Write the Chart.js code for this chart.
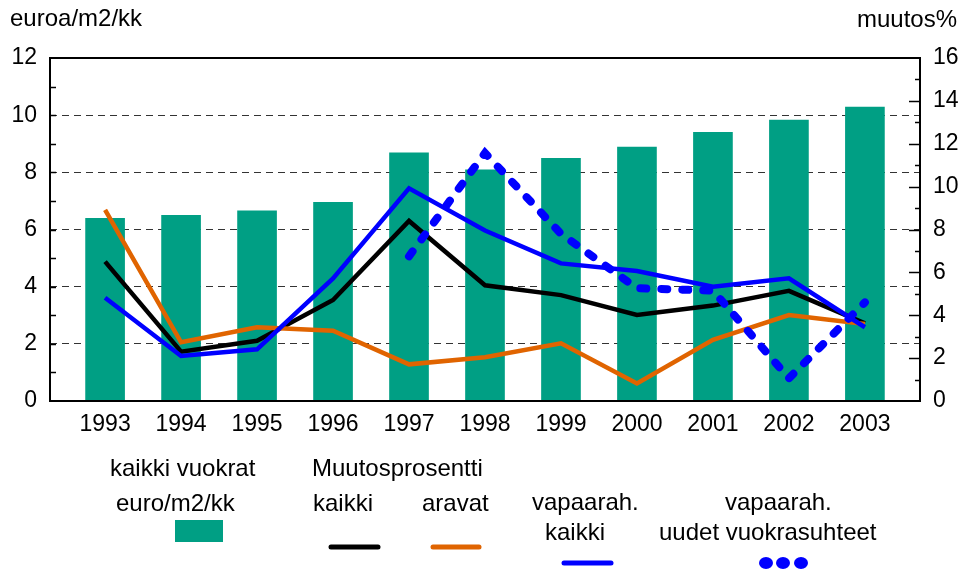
<!DOCTYPE html>
<html>
<head>
<meta charset="utf-8">
<script src="https://cdn.jsdelivr.net/npm/chart.js@4"></script>
<style>
html,body{margin:0;padding:0;background:#fff;}
#wrap{width:964px;height:570px;}
</style>
</head>
<body>
<div id="wrap"><canvas id="c" width="964" height="570"></canvas></div>
<script>
// data
const years = [1993,1994,1995,1996,1997,1998,1999,2000,2001,2002,2003];
const rentAll = [6.39,6.50,6.65,6.95,8.68,8.09,8.49,8.88,9.40,9.83,10.28];   // euroa/m2/kk
const chgAll = [6.50,2.30,2.81,4.71,8.40,5.40,4.94,4.01,4.45,5.14,3.62];     // muutos% kaikki
const chgArava = [8.91,2.74,3.44,3.28,1.71,2.04,2.69,0.82,2.85,4.01,3.59];   // aravat
const chgFreeAll = [4.82,2.10,2.41,5.72,9.92,7.95,6.42,6.06,5.33,5.72,3.44]; // vapaarah. kaikki
const chgFreeNew = [null,null,null,null,6.75,11.57,7.80,5.26,5.15,1.06,4.60]; // vapaarah. uudet
const leftTicks = [0,2,4,6,8,10,12];
const rightTicks = [0,2,4,6,8,10,12,14,16];

const GREEN = '#009F84', ORANGE = '#E06400', BLUE = '#0000FF';
const FONT = '"Liberation Sans", Arial, sans-serif';
Chart.defaults.font.family = FONT;
Chart.defaults.color = '#000';

const pts = arr => years.map((y,i)=>({x:y, y:arr[i]}));

// frame, inner tick marks, axis titles and the legend block
const extras = {
  id:'extras',
  afterDraw(chart){
    const ctx = chart.ctx, a = chart.chartArea;
    const yl = chart.scales.y, yr = chart.scales.y1;
    ctx.save();
    ctx.strokeStyle = '#000';
    ctx.lineWidth = 1.5;
    for(let v=1; v<12; v++){
      const p = Math.round(yl.getPixelForValue(v))+0.5;
      ctx.beginPath(); ctx.moveTo(a.left, p); ctx.lineTo(a.left+6, p); ctx.stroke();
    }
    for(let v=1; v<16; v++){
      const p = Math.round(yr.getPixelForValue(v))+0.5;
      const len = v%2 ? 5 : 11;
      ctx.beginPath(); ctx.moveTo(a.right, p); ctx.lineTo(a.right-len, p); ctx.stroke();
    }
    ctx.lineWidth = 2;
    ctx.strokeRect(a.left, a.top, a.right-a.left, a.bottom-a.top);

    ctx.fillStyle = '#000';
    ctx.textBaseline = 'alphabetic';
    ctx.font = '24px ' + FONT;
    ctx.textAlign = 'left';
    ctx.fillText('euroa/m2/kk', 10, 26);
    ctx.textAlign = 'right';
    ctx.fillText('muutos%', 957, 27);

    ctx.textAlign = 'left';
    ctx.fillText('kaikki vuokrat', 110, 476);
    ctx.fillText('euro/m2/kk', 116, 511);
    ctx.fillText('Muutosprosentti', 312, 476);
    ctx.fillText('kaikki', 313, 511);
    ctx.fillText('aravat', 422, 511);
    ctx.fillText('vapaarah.', 532, 510);
    ctx.fillText('kaikki', 545, 540);
    ctx.fillText('vapaarah.', 725, 510);
    ctx.fillText('uudet vuokrasuhteet', 659, 540);

    ctx.fillStyle = GREEN;
    ctx.fillRect(175, 520, 48, 22);
    ctx.lineCap = 'round';
    ctx.lineWidth = 5;
    [['#000',331,378,547],[ORANGE,433,479,547],[BLUE,564,611,563]].forEach(s=>{
      ctx.strokeStyle = s[0];
      ctx.beginPath(); ctx.moveTo(s[1], s[3]); ctx.lineTo(s[2], s[3]); ctx.stroke();
    });
    ctx.fillStyle = BLUE;
    [766,783,801].forEach(x=>{
      ctx.beginPath(); ctx.ellipse(x, 563, 7, 6, 0, 0, Math.PI*2); ctx.fill();
    });
    ctx.restore();
  }
};

const lineDs = (label, arr, color, order, extra) => Object.assign({
  type:'line', label, data: pts(arr), yAxisID:'y1',
  borderColor: color, backgroundColor: color, borderWidth: 4.5,
  pointRadius: 0, tension: 0, fill: false, order
}, extra || {});

new Chart(document.getElementById('c'), {
  type:'bar',
  data:{
    datasets:[
      {type:'bar', label:'kaikki vuokrat euro/m2/kk', data: pts(rentAll), yAxisID:'y',
       backgroundColor: GREEN, barThickness: 39, order: 10},
      lineDs('kaikki', chgAll, '#000', 4),
      lineDs('aravat', chgArava, ORANGE, 3),
      lineDs('vapaarah. kaikki', chgFreeAll, BLUE, 2),
      lineDs('vapaarah. uudet vuokrasuhteet', chgFreeNew, BLUE, 1,
        {borderWidth: 8, borderDash:[6,15], borderCapStyle:'round'})
    ]
  },
  options:{
    responsive:false,
    animation:false,
    layout:{padding:{top:58, left:0, right:0, bottom:0}},
    plugins:{legend:{display:false}, tooltip:{enabled:false}},
    scales:{
      x:{
        type:'linear', offset:false, min:1992.275, max:2003.725,
        afterBuildTicks: sc => { sc.ticks = years.map(v=>({value:v})); },
        afterFit: sc => { sc.height = 169; },
        grid:{display:false, drawTicks:false},
        border:{display:false},
        ticks:{font:{size:23}, padding:10, autoSkip:false, maxRotation:0, callback: v => String(v)}
      },
      y:{
        position:'left', min:0, max:12,
        afterBuildTicks: sc => { sc.ticks = leftTicks.map(v=>({value:v})); },
        afterFit: sc => { sc.width = 50; },
        grid:{drawTicks:false, lineWidth:1,
              color: c => (c.tick.value===0 || c.tick.value===12) ? 'rgba(0,0,0,0)' : '#333'},
        border:{display:false, dash:[7,5]},
        ticks:{font:{size:23}, padding:13}
      },
      y1:{
        position:'right', min:0, max:16,
        afterBuildTicks: sc => { sc.ticks = rightTicks.map(v=>({value:v})); },
        afterFit: sc => { sc.width = 44; },
        grid:{display:false, drawTicks:false},
        border:{display:false},
        ticks:{font:{size:23}, padding:13}
      }
    }
  },
  plugins:[extras]
});
</script>
</body>
</html>
